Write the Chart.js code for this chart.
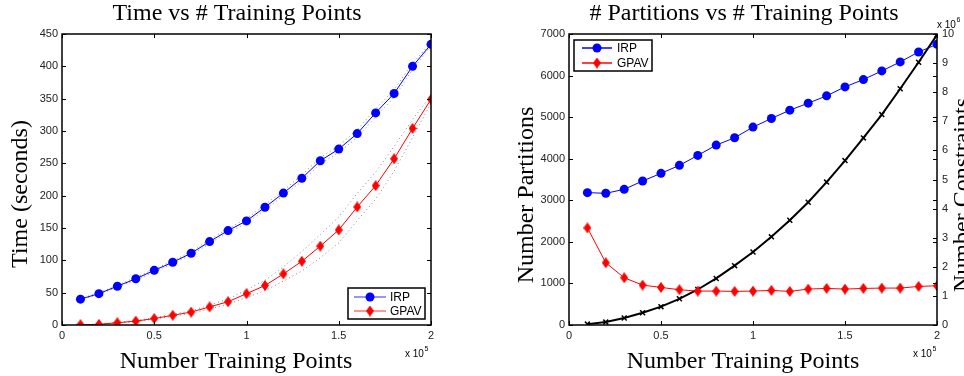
<!DOCTYPE html>
<html>
<head>
<meta charset="utf-8">
<script src="https://cdn.jsdelivr.net/npm/chart.js@4"></script>
<style>
  body { margin: 0; background: #fff; }
  canvas { position: absolute; top: 0; }
</style>
</head>
<body>
<canvas id="timeChart" width="482" height="376" style="left:0"></canvas>
<canvas id="partChart" width="482" height="376" style="left:482px"></canvas>
<script>
// training points, in units of 10^5
const trainPoints = [0.1, 0.2, 0.3, 0.4, 0.5, 0.6, 0.7, 0.8, 0.9, 1.0, 1.1, 1.2, 1.3, 1.4, 1.5, 1.6, 1.7, 1.8, 1.9, 2.0];

// left: time in seconds
const timeIRP = [40, 48.5, 60, 71.5, 84.5, 97, 111, 129, 146, 161, 182, 204, 227, 254, 272, 296, 328, 358, 400, 434];
const timeIRPHigh = [41, 49.5, 61.5, 73.5, 86.5, 99, 113.5, 132, 149, 164.5, 186, 208, 232, 259, 277, 302, 334, 364, 405, 436];
const timeIRPLow = [39, 47.5, 58.5, 69.5, 82.5, 95, 108.5, 126, 143, 157.5, 178, 200, 222, 249, 267, 290, 322, 352, 395, 432];
const timeGPAV = [0.5, 1, 3.5, 6, 10, 15, 20, 28, 36, 48.5, 61, 79, 98.5, 122, 147, 182.5, 215.5, 257, 304, 349];
const timeGPAVHigh = [0.5, 1, 4, 7, 11, 16.5, 22, 31, 40, 54.5, 69, 90, 113.5, 140, 167, 203.5, 236.5, 276, 318, 355];
const timeGPAVLow = [0.5, 1, 3, 5, 9, 13.5, 18, 25, 32, 42.5, 53, 68, 83.5, 104, 127, 161.5, 194.5, 238, 290, 343];

// right: partitions and constraints (10^6)
const partIRP = [3184, 3168, 3264, 3464, 3648, 3840, 4080, 4328, 4504, 4760, 4968, 5168, 5336, 5512, 5728, 5904, 6112, 6328, 6568, 6752];
const partGPAV = [2336, 1496, 1136, 960, 904, 848, 816, 816, 808, 816, 832, 808, 864, 880, 864, 880, 888, 888, 928, 944];
const constraints = [0.03, 0.10, 0.24, 0.42, 0.63, 0.90, 1.22, 1.60, 2.04, 2.51, 3.03, 3.60, 4.22, 4.91, 5.65, 6.43, 7.23, 8.12, 9.03, 9.97];

// tick labels
const xTicks = [0, 0.5, 1, 1.5, 2];
const timeTicks = [0, 50, 100, 150, 200, 250, 300, 350, 400, 450];
const partTicks = [0, 1000, 2000, 3000, 4000, 5000, 6000, 7000];
const consTicks = [0, 1, 2, 3, 4, 5, 6, 7, 8, 9, 10];

const SANS = '"Liberation Sans", Arial, sans-serif';
const SERIF = '"Liberation Serif", "Times New Roman", serif';

// tall red diamond marker
function makeDiamond(w, h, color) {
  const c = document.createElement('canvas');
  c.width = w; c.height = h;
  const g = c.getContext('2d');
  g.fillStyle = color;
  g.beginPath();
  g.moveTo(w / 2, 0); g.lineTo(w, h / 2); g.lineTo(w / 2, h); g.lineTo(0, h / 2);
  g.closePath(); g.fill();
  return c;
}
const diamond = makeDiamond(8, 11, '#ff0000');

const pts = arr => trainPoints.map((x, i) => ({ x, y: arr[i] }));
const setTicks = list => scale => { scale.ticks = list.map(v => ({ value: v })); };

const frame = {
  id: 'frame',
  afterDraw(chart, args, o) {
    const { ctx, chartArea: a } = chart;
    const sx = chart.scales.x, sy = chart.scales.y, sy1 = chart.scales.y1;
    ctx.save();
    ctx.strokeStyle = '#000';
    ctx.lineWidth = 1;
    ctx.beginPath();
    sx.ticks.forEach(t => {
      const p = Math.round(sx.getPixelForValue(t.value)) + 0.5;
      ctx.moveTo(p, a.bottom); ctx.lineTo(p, a.bottom - 4);
      ctx.moveTo(p, a.top); ctx.lineTo(p, a.top + 4);
    });
    sy.ticks.forEach(t => {
      const p = Math.round(sy.getPixelForValue(t.value)) + 0.5;
      ctx.moveTo(a.left, p); ctx.lineTo(a.left + 4, p);
      ctx.moveTo(a.right, p); ctx.lineTo(a.right - 4, p);
    });
    if (sy1) {
      sy1.ticks.forEach(t => {
        const p = Math.round(sy1.getPixelForValue(t.value)) + 0.5;
        ctx.moveTo(a.right, p); ctx.lineTo(a.right - 4, p);
      });
    }
    ctx.stroke();
    ctx.lineWidth = 1.5;
    ctx.strokeRect(a.left, a.top, a.right - a.left, a.bottom - a.top);

    // titles
    ctx.fillStyle = '#000';
    ctx.font = '24px ' + SERIF;
    ctx.textAlign = 'center';
    ctx.textBaseline = 'alphabetic';
    ctx.fillText(o.title.text, o.title.x, o.title.y);
    ctx.fillText(o.xTitle.text, o.xTitle.x, o.xTitle.y);
    o.yTitles.forEach(t => {
      ctx.save();
      ctx.translate(t.x, t.y);
      ctx.rotate(-Math.PI / 2);
      ctx.textBaseline = 'middle';
      ctx.fillText(t.text, 0, 0);
      ctx.restore();
    });

    // exponent labels
    o.exps.forEach(e => {
      ctx.textAlign = 'left';
      ctx.font = '10px ' + SANS;
      ctx.fillText('x 10', e.x, e.y);
      const w = ctx.measureText('x 10').width;
      ctx.font = '7px ' + SANS;
      ctx.fillText(e.sup, e.x + w + 0.5, e.y - 6);
    });

    // legend
    const L = o.legend;
    ctx.fillStyle = '#fff';
    ctx.fillRect(L.x, L.y, L.w, L.h);
    ctx.lineWidth = 1.5;
    ctx.strokeStyle = '#000';
    ctx.strokeRect(L.x, L.y, L.w, L.h);
    L.items.forEach((it, i) => {
      const yy = L.y + L.row0 + i * L.rowGap;
      ctx.globalAlpha = L.lineAlpha;
      ctx.strokeStyle = it.color;
      ctx.lineWidth = 1.5;
      ctx.beginPath();
      ctx.moveTo(L.x + L.l0, yy); ctx.lineTo(L.x + L.l1, yy);
      ctx.stroke();
      ctx.globalAlpha = 1;
      const mx = L.x + (L.l0 + L.l1) / 2;
      if (it.marker === 'circle') {
        ctx.fillStyle = it.color;
        ctx.beginPath(); ctx.arc(mx, yy, 4.5, 0, Math.PI * 2); ctx.fill();
      } else {
        ctx.drawImage(diamond, mx - diamond.width / 2, yy - diamond.height / 2);
      }
      ctx.fillStyle = '#000';
      ctx.font = '12px ' + SANS;
      ctx.textAlign = 'left';
      ctx.textBaseline = 'middle';
      ctx.fillText(it.label, L.x + L.tx, yy + 0.5);
    });
    ctx.restore();
  }
};

const tickFont = { family: SANS, size: 11 };
const legendItems = [
  { label: 'IRP', color: '#0000ff', marker: 'circle' },
  { label: 'GPAV', color: '#ff0000', marker: 'diamond' }
];

function xScale() {
  return {
    type: 'linear', min: 0, max: 2,
    afterBuildTicks: setTicks(xTicks),
    afterFit: s => { s.height = 51; },
    grid: { display: false, drawTicks: false },
    border: { display: false },
    ticks: { font: tickFont, color: '#222', padding: 4, maxRotation: 0, callback: v => String(v) }
  };
}

function bandLine(arr) {
  return {
    data: pts(arr), borderColor: '#8a8a8a', borderWidth: 1, borderDash: [1, 3],
    pointRadius: 0, fill: false
  };
}

new Chart(document.getElementById('timeChart'), {
  type: 'line',
  data: {
    datasets: [
      { label: 'IRP', data: pts(timeIRP), borderColor: '#0000ff', borderWidth: 1,
        pointStyle: 'circle', pointRadius: 4.5, pointBackgroundColor: '#0000ff', pointBorderColor: '#0000ff', pointBorderWidth: 0 },
      { label: 'GPAV', data: pts(timeGPAV), borderColor: '#ff0000', borderWidth: 1,
        pointStyle: diamond, pointRadius: 5 },
      bandLine(timeIRPHigh), bandLine(timeIRPLow),
      bandLine(timeGPAVHigh), bandLine(timeGPAVLow)
    ]
  },
  options: {
    responsive: false,
    animation: false,
    devicePixelRatio: 1,
    layout: { padding: { top: 34, right: 51, left: 0, bottom: 0 } },
    plugins: {
      legend: { display: false },
      tooltip: { enabled: false },
      frame: {
        title: { text: 'Time vs # Training Points', x: 237, y: 20 },
        xTitle: { text: 'Number Training Points', x: 236, y: 368 },
        yTitles: [{ text: 'Time (seconds)', x: 21, y: 194 }],
        exps: [{ sup: '5', x: 405, y: 357 }],
        legend: { x: 348, y: 288, w: 77, h: 31, row0: 9, rowGap: 14, l0: 6, l1: 38, tx: 42, lineAlpha: 0.55, items: legendItems }
      }
    },
    scales: {
      x: xScale(),
      y: {
        min: 0, max: 450,
        afterBuildTicks: setTicks(timeTicks),
        afterFit: s => { s.width = 62; },
        grid: { display: false, drawTicks: false },
        border: { display: false },
        ticks: { font: tickFont, color: '#222', padding: 4, callback: v => String(v) }
      }
    }
  },
  plugins: [frame]
});

new Chart(document.getElementById('partChart'), {
  type: 'line',
  data: {
    datasets: [
      { label: 'IRP', data: pts(partIRP), borderColor: '#0000ff', borderWidth: 1, yAxisID: 'y',
        pointStyle: 'circle', pointRadius: 4.5, pointBackgroundColor: '#0000ff', pointBorderColor: '#0000ff', pointBorderWidth: 0 },
      { label: 'GPAV', data: pts(partGPAV), borderColor: '#ff0000', borderWidth: 1, yAxisID: 'y',
        pointStyle: diamond, pointRadius: 5 },
      { label: 'Constraints', data: pts(constraints), borderColor: '#000', borderWidth: 2, yAxisID: 'y1',
        pointStyle: 'crossRot', pointRadius: 3.5, pointBorderColor: '#000', pointBorderWidth: 1.5 }
    ]
  },
  options: {
    responsive: false,
    animation: false,
    devicePixelRatio: 1,
    layout: { padding: { top: 34, right: 0, left: 0, bottom: 0 } },
    plugins: {
      legend: { display: false },
      tooltip: { enabled: false },
      frame: {
        title: { text: '# Partitions vs # Training Points', x: 262, y: 20 },
        xTitle: { text: 'Number Training Points', x: 261, y: 368 },
        yTitles: [
          { text: 'Number Partitions', x: 45, y: 195 },
          { text: 'Number Constraints', x: 481, y: 195 }
        ],
        exps: [{ sup: '5', x: 431, y: 357 }, { sup: '6', x: 455, y: 28 }],
        legend: { x: 92, y: 40, w: 78, h: 31, row0: 8, rowGap: 15, l0: 8, l1: 38, tx: 43, lineAlpha: 1, items: legendItems }
      }
    },
    scales: {
      x: xScale(),
      y: {
        position: 'left', min: 0, max: 7000,
        afterBuildTicks: setTicks(partTicks),
        afterFit: s => { s.width = 87; },
        grid: { display: false, drawTicks: false },
        border: { display: false },
        ticks: { font: tickFont, color: '#222', padding: 4, callback: v => String(v) }
      },
      y1: {
        position: 'right', min: 0, max: 10,
        afterBuildTicks: setTicks(consTicks),
        afterFit: s => { s.width = 27; },
        grid: { display: false, drawTicks: false },
        border: { display: false },
        ticks: { font: tickFont, color: '#222', padding: 5, callback: v => String(v) }
      }
    }
  },
  plugins: [frame]
});
</script>
</body>
</html>
